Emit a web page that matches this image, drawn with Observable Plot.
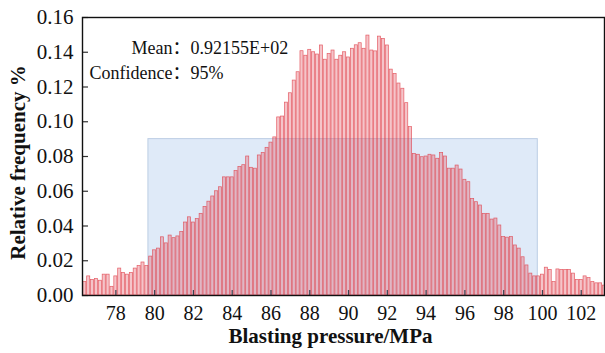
<!DOCTYPE html>
<html>
<head>
<meta charset="utf-8">
<script src="https://cdn.jsdelivr.net/npm/d3@7"></script>
<script src="https://cdn.jsdelivr.net/npm/@observablehq/plot@0.6"></script>
<style>
  html, body { margin: 0; padding: 0; background: #fff; }
  svg text { font-family: "Liberation Serif", "Noto Sans CJK SC", serif; }
</style>
</head>
<body>
<div id="chart"></div>
<script>
// Histogram bins (start, width) and relative frequencies
const binStart = 76.3;
const binWidth = 0.2;
const freq = [
  0.0077, 0.011, 0.009, 0.0095, 0.0085, 0.012, 0.012, 0.005, 0.011, 0.0155,
  0.013, 0.012, 0.013, 0.0155, 0.017, 0.019, 0.017, 0.0224, 0.026, 0.027,
  0.0335, 0.030, 0.0345, 0.033, 0.034, 0.0365, 0.042, 0.045, 0.042, 0.044,
  0.047, 0.051, 0.054, 0.057, 0.060, 0.0623, 0.068, 0.068, 0.068, 0.0716,
  0.074, 0.075, 0.080, 0.0735, 0.073, 0.0806, 0.082, 0.085, 0.088, 0.091,
  0.1025, 0.103, 0.111, 0.1164, 0.1237, 0.1285, 0.1406, 0.138, 0.1414, 0.140,
  0.1387, 0.1439, 0.1357, 0.139, 0.141, 0.1357, 0.138, 0.140, 0.137, 0.142,
  0.144, 0.1452, 0.142, 0.1496, 0.141, 0.1405, 0.149, 0.1477, 0.1439, 0.130,
  0.1275, 0.122, 0.119, 0.1107, 0.0969, 0.0815, 0.081, 0.0796, 0.080, 0.081,
  0.0806, 0.0787, 0.082, 0.080, 0.073, 0.073, 0.0748, 0.0725, 0.0666, 0.0652,
  0.0556, 0.0537, 0.0518, 0.047, 0.047, 0.0437, 0.0443, 0.0403, 0.0336, 0.0333,
  0.0336, 0.0288, 0.027, 0.022, 0.0173, 0.0126, 0.011, 0.011, 0.012, 0.016,
  0.0147, 0.0077, 0.015, 0.0147, 0.0147, 0.0147, 0.0126, 0.009, 0.009, 0.011,
  0.010, 0.0077, 0.007, 0.007, 0.0057
];
// Confidence band
const ciLow = 79.68;
const ciHigh = 99.76;
const ciTop = 0.09;
// Ticks
const xTicks = [78, 80, 82, 84, 86, 88, 90, 92, 94, 96, 98, 100, 102];
const yTicks = [0, 0.02, 0.04, 0.06, 0.08, 0.10, 0.12, 0.14, 0.16];
// Annotation
const annLabels = ["Mean：", "Confidence："];
const annValues = ["0.92155E+02", "95%"];
const annY = [0.1422, 0.1278];
const annX = 81.85;

const serif = "'Liberation Serif', 'Noto Sans CJK SC', serif";

const bins = freq.map((f, i) => ({
  x1: binStart + i * binWidth,
  x2: binStart + (i + 1) * binWidth,
  f
}));
const ann = annLabels.map((l, i) => ({label: l, value: annValues[i], y: annY[i]}));

const chart = Plot.plot({
  width: 605,
  height: 353,
  marginLeft: 82,
  marginRight: 1,
  marginTop: 17,
  marginBottom: 58,
  style: {fontFamily: serif, background: "#fff", color: "#111"},
  x: {domain: [76.28, 103.2]},
  y: {domain: [0, 0.16]},
  marks: [
    Plot.rect([{lo: ciLow, hi: ciHigh, top: ciTop}], {
      x1: "lo", x2: "hi", y1: 0, y2: "top",
      fill: "#dfeaf8", stroke: "#bccde4", strokeWidth: 1
    }),
    Plot.rectY(bins, {
      x1: "x1", x2: "x2", y: "f",
      fill: "#e35c68", fillOpacity: 0.36,
      stroke: "#e03c46", strokeOpacity: 0.8, strokeWidth: 0.7,
      insetLeft: 0.4, insetRight: 0.4, clip: true
    }),
    Plot.axisX({ticks: xTicks, tickSize: 0, tickPadding: 10, fontSize: 20, fontFamily: serif, label: null}),
    Plot.tickX(xTicks, {x: d => d, insetTop: 273, stroke: "#3a4250", strokeWidth: 1.2}),
    Plot.axisY({ticks: yTicks, tickSize: 0, tickPadding: 9, fontSize: 21, fontFamily: serif, label: null, tickFormat: d3.format(".2f")}),
    Plot.tickY(yTicks, {y: d => d, insetRight: 516, stroke: "#333", strokeWidth: 1.2}),
    Plot.frame({stroke: "#111", strokeWidth: 1.4}),
    Plot.text(ann, {x: annX, y: "y", text: "label", textAnchor: "end", fontSize: 18, fontFamily: serif, fill: "#111"}),
    Plot.text(ann, {x: annX, y: "y", text: "value", textAnchor: "start", fontSize: 18, fontFamily: serif, fill: "#111"}),
    Plot.text(["Blasting pressure/MPa"], {
      frameAnchor: "bottom", lineAnchor: "middle", textAnchor: "middle", dy: 41, dx: -13,
      fontSize: 21, fontWeight: "bold", fontFamily: serif, fill: "#111"
    }),
    Plot.text(["Relative frequency %"], {
      frameAnchor: "left", textAnchor: "middle", lineAnchor: "middle", dx: -64, dy: 6, rotate: -90,
      fontSize: 21, fontWeight: "bold", fontFamily: serif, fill: "#111"
    })
  ]
});
document.getElementById("chart").appendChild(chart);
</script>
</body>
</html>
